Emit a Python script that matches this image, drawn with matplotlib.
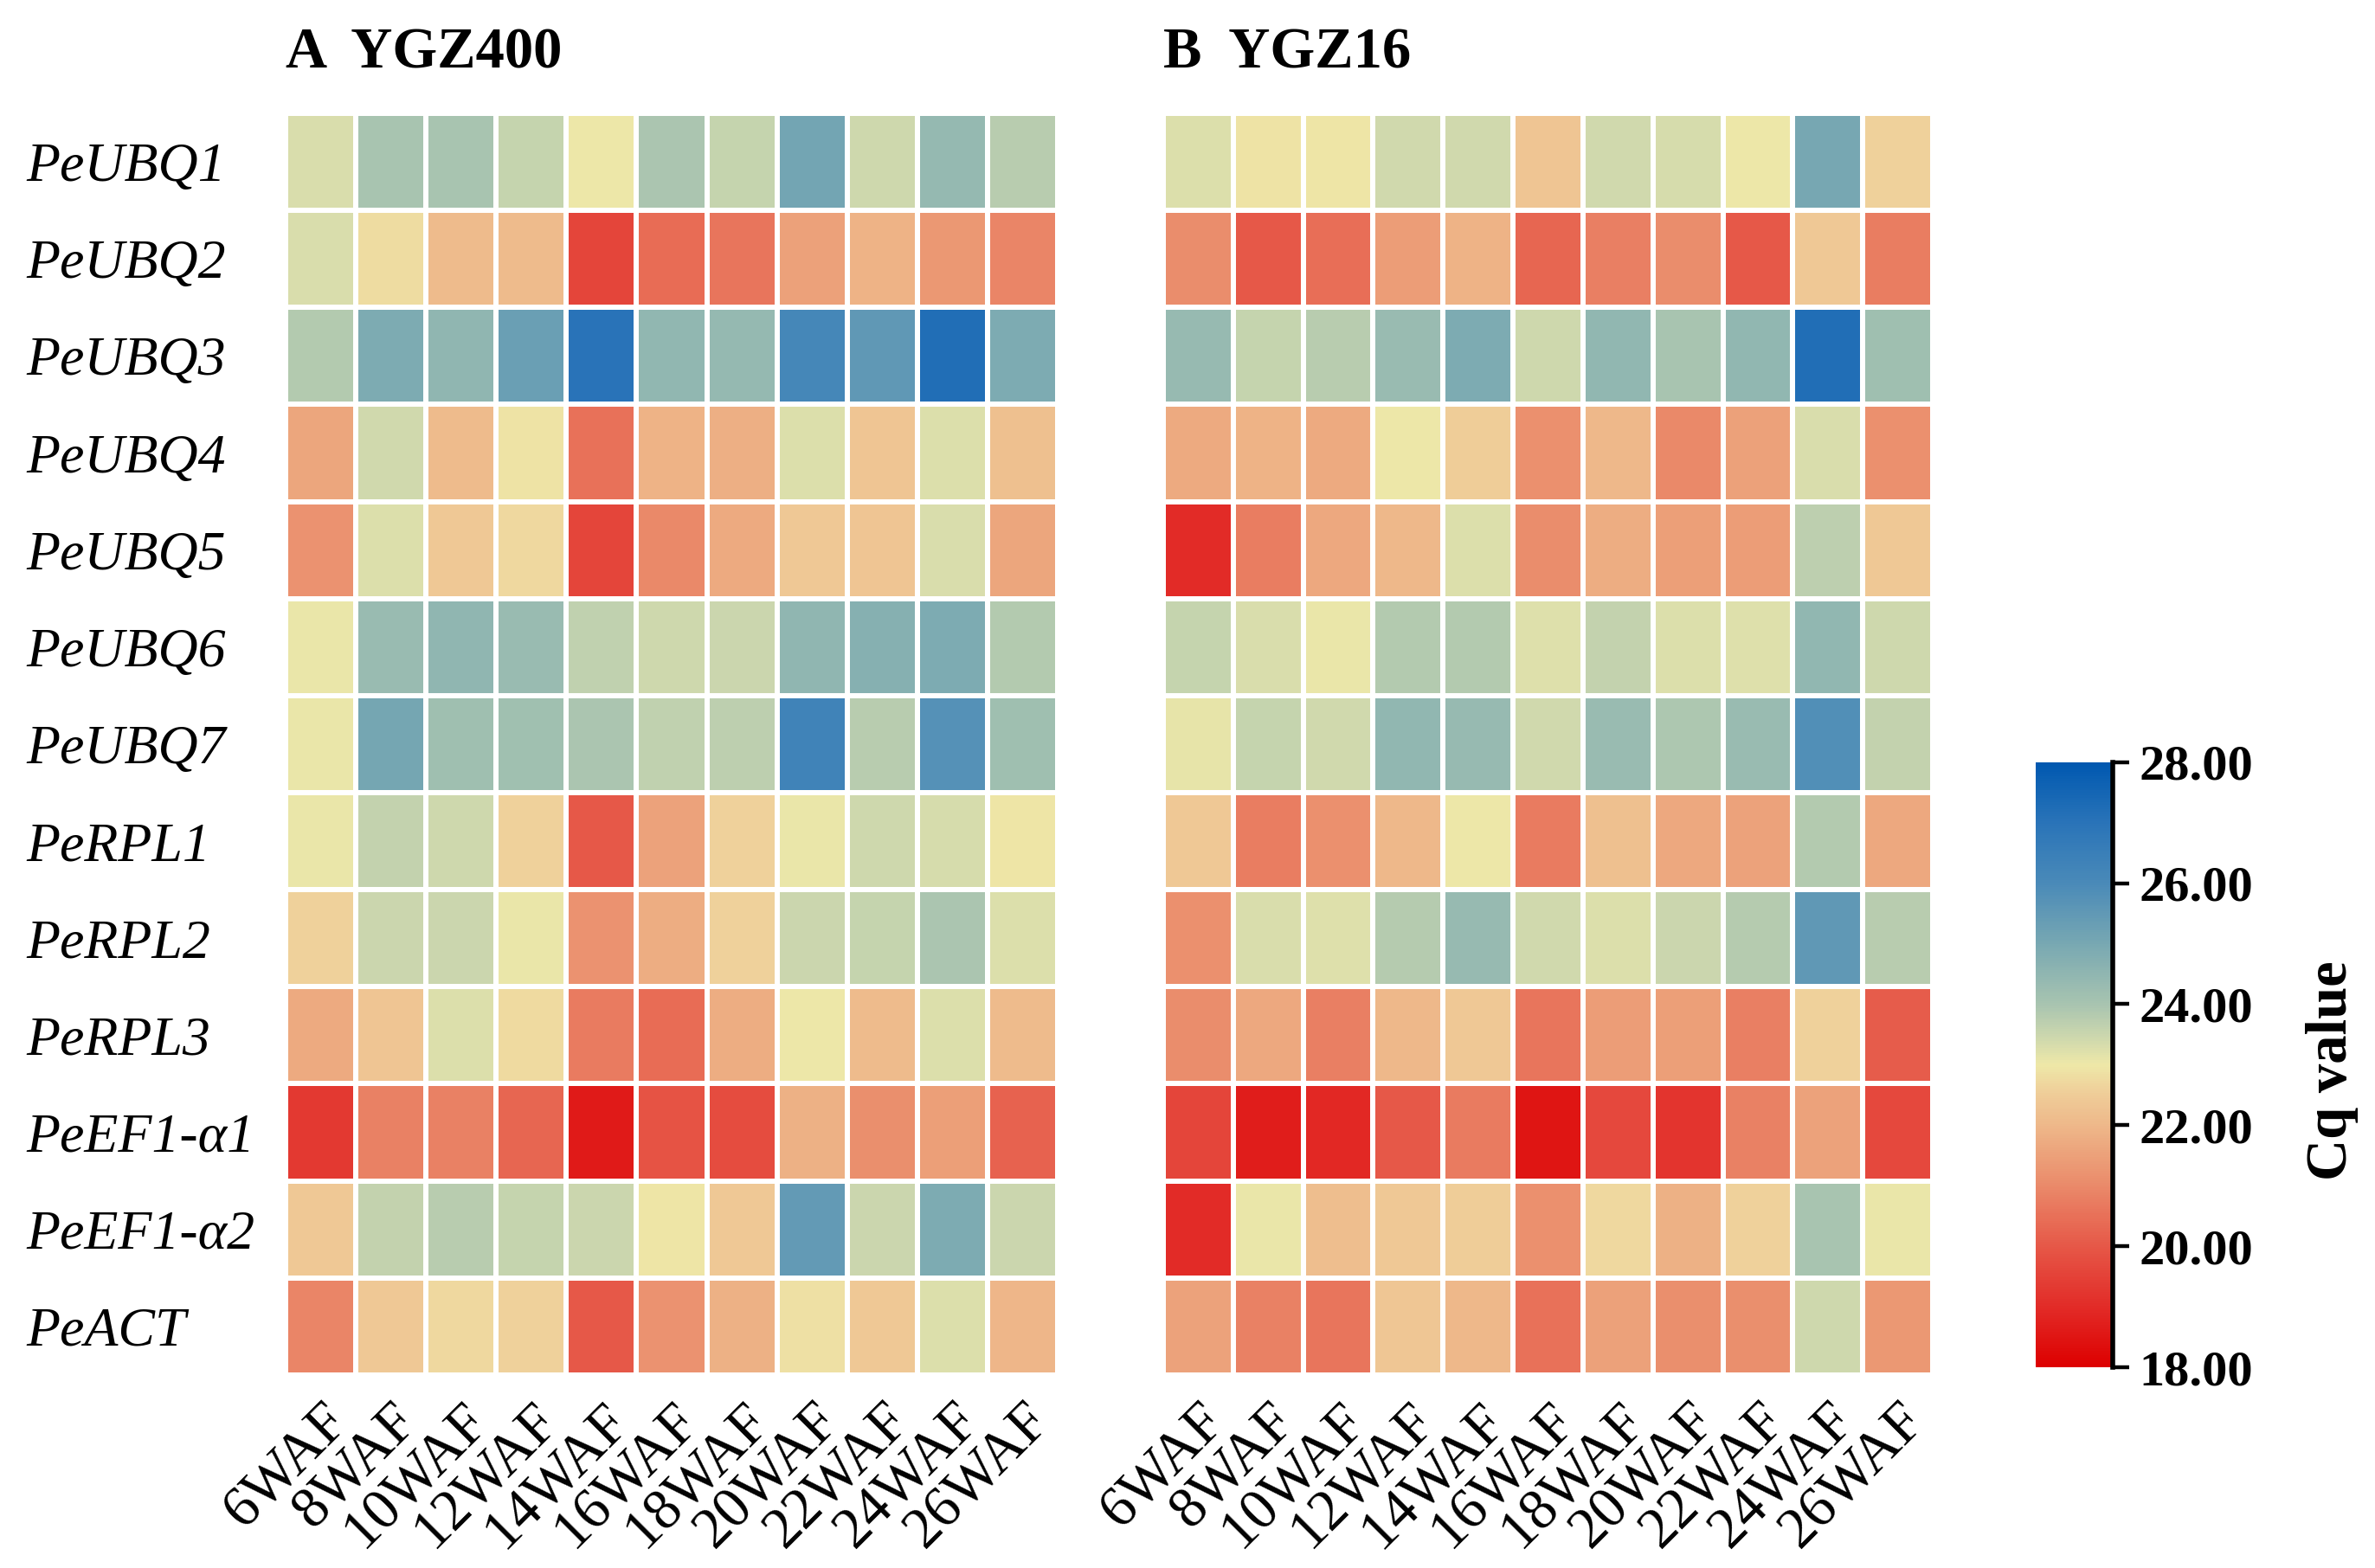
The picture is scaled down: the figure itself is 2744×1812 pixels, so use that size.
import matplotlib
matplotlib.use("Agg")
import matplotlib.pyplot as plt
import numpy as np
from matplotlib.colors import LinearSegmentedColormap

plt.rcParams['font.family'] = 'serif'
plt.rcParams['font.serif'] = ['Liberation Serif', 'DejaVu Serif']

genes = ['PeUBQ1', 'PeUBQ2', 'PeUBQ3', 'PeUBQ4', 'PeUBQ5', 'PeUBQ6', 'PeUBQ7',
         'PeRPL1', 'PeRPL2', 'PeRPL3', 'PeEF1-α1', 'PeEF1-α2', 'PeACT']
weeks = ['6WAF', '8WAF', '10WAF', '12WAF', '14WAF', '16WAF', '18WAF',
         '20WAF', '22WAF', '24WAF', '26WAF']

# Cq values, YGZ400 (rows = genes, cols = weeks)
ygz400 = [
    [23.3, 24.0, 24.0, 23.55, 23.0, 23.95, 23.55, 25.1, 23.45, 24.4, 23.75],
    [23.3, 22.8, 22.1, 22.1, 19.6, 20.4, 20.6, 21.5, 21.9, 21.3, 20.9],
    [23.85, 24.9, 24.5, 25.3, 27.0, 24.45, 24.4, 26.15, 25.5, 27.2, 24.9],
    [21.6, 23.4, 22.1, 22.9, 20.5, 21.9, 21.8, 23.25, 22.3, 23.25, 22.2],
    [21.2, 23.25, 22.4, 22.7, 19.6, 21.0, 21.7, 22.4, 22.3, 23.3, 21.6],
    [23.05, 24.3, 24.5, 24.3, 23.65, 23.45, 23.5, 24.5, 24.7, 24.9, 23.85],
    [23.05, 25.05, 24.2, 24.15, 23.95, 23.65, 23.7, 26.3, 23.75, 25.75, 24.2],
    [23.05, 23.6, 23.45, 22.6, 20.0, 21.55, 22.6, 23.05, 23.45, 23.35, 22.95],
    [22.6, 23.5, 23.5, 23.05, 21.2, 21.75, 22.6, 23.5, 23.55, 23.95, 23.25],
    [21.7, 22.3, 23.25, 22.75, 20.7, 20.4, 21.75, 23.0, 22.1, 23.25, 22.1],
    [19.3, 20.85, 20.85, 20.3, 18.6, 19.9, 19.75, 21.85, 21.1, 21.45, 20.2],
    [22.4, 23.6, 23.75, 23.55, 23.5, 22.95, 22.4, 25.45, 23.5, 24.9, 23.5],
    [20.9, 22.4, 22.7, 22.6, 20.0, 21.2, 21.85, 22.85, 22.4, 23.25, 21.95],
]

# Cq values, YGZ16
ygz16 = [
    [23.25, 22.9, 22.95, 23.4, 23.4, 22.3, 23.4, 23.35, 23.0, 25.0, 22.6],
    [21.05, 20.0, 20.45, 21.4, 21.9, 20.3, 20.8, 21.05, 20.0, 22.4, 20.75],
    [24.35, 23.55, 23.75, 24.3, 24.9, 23.45, 24.45, 24.0, 24.45, 27.2, 24.2],
    [21.7, 21.9, 21.7, 23.0, 22.5, 21.15, 22.0, 21.0, 21.5, 23.3, 21.15],
    [19.0, 20.75, 21.65, 22.0, 23.25, 21.05, 21.75, 21.45, 21.4, 23.7, 22.4],
    [23.55, 23.3, 23.05, 23.85, 23.85, 23.2, 23.6, 23.25, 23.2, 24.45, 23.45],
    [23.1, 23.55, 23.4, 24.45, 24.35, 23.4, 24.3, 23.9, 24.3, 25.85, 23.6],
    [22.4, 20.75, 21.15, 22.0, 23.0, 20.7, 22.2, 21.65, 21.55, 23.85, 21.65],
    [21.15, 23.3, 23.2, 23.8, 24.35, 23.4, 23.25, 23.5, 23.8, 25.5, 23.75],
    [21.05, 21.65, 20.8, 22.0, 22.4, 20.6, 21.4, 21.45, 20.8, 22.6, 20.1],
    [19.6, 18.7, 18.9, 20.0, 20.7, 18.5, 19.65, 19.2, 20.85, 21.55, 19.65],
    [19.0, 23.05, 22.15, 22.4, 22.5, 21.15, 22.7, 21.85, 22.6, 24.0, 23.05],
    [21.55, 20.85, 20.6, 22.35, 22.0, 20.5, 21.5, 21.1, 21.1, 23.45, 21.3],
]

vmin, vmax = 18, 28
cq_nodes = [18, 19, 20, 21, 22, 22.5, 23, 23.5, 24, 25, 26, 27, 28]
cq_colors = ['#dd0000', '#e22c28', '#e65848', '#ea8a6a', '#eeb88a', '#efcc98',
             '#eee8a8', '#cad6ae', '#a8c4b0', '#78a8b2', '#4a8ab8', '#2a74b8',
             '#0058b0']
cmap = LinearSegmentedColormap.from_list(
    'cq', [((v - vmin) / (vmax - vmin), c) for v, c in zip(cq_nodes, cq_colors)])

fig = plt.figure(figsize=(13.72, 9.06), dpi=200)

panels = [
    (ygz400, 'A  YGZ400', [0.1203, 0.1231, 0.325, 0.8046], True),
    (ygz16, 'B  YGZ16', [0.4898, 0.1231, 0.324, 0.8046], False),
]

mesh = None
for data, title, rect, show_genes in panels:
    ax = fig.add_axes(rect)
    mesh = ax.pcolormesh(np.array(data), cmap=cmap, vmin=vmin, vmax=vmax,
                         edgecolors='white', linewidth=1.6)
    ax.set_xlim(0, len(weeks))
    ax.set_ylim(len(genes), 0)
    for s in ax.spines.values():
        s.set_visible(False)
    ax.set_xticks(np.arange(len(weeks)) + 0.5)
    ax.set_xticklabels(weeks, rotation=45, ha='right', rotation_mode='anchor',
                       fontsize=24)
    ax.tick_params(axis='both', length=0)
    ax.tick_params(axis='x', pad=8)
    ax.set_yticks(np.arange(len(genes)) + 0.5)
    if show_genes:
        ax.set_yticklabels(genes, ha='left', fontsize=23, style='italic')
        ax.tick_params(axis='y', pad=108)
    else:
        ax.set_yticklabels([])
    ax.text(0, 1.036, title, transform=ax.transAxes, ha='left', va='baseline',
            fontsize=24, fontweight='bold')

cax = fig.add_axes([0.857, 0.128, 0.0325, 0.386])
cbar = fig.colorbar(mesh, cax=cax, ticks=[18, 20, 22, 24, 26, 28])
cbar.outline.set_visible(False)
cax.plot([1, 1], [0, 1], transform=cax.transAxes, color='black', lw=2,
         clip_on=False)
cbar.ax.set_yticklabels(['%.2f' % t for t in [18, 20, 22, 24, 26, 28]],
                        fontsize=21, fontweight='bold')
cax.tick_params(axis='y', direction='out', length=7, width=1.6, pad=4)
fig.text(0.982, 0.317, 'Cq value', rotation=90, ha='center', va='center',
         fontsize=24, fontweight='bold')

fig.savefig('out.png', dpi=200, facecolor='white')
